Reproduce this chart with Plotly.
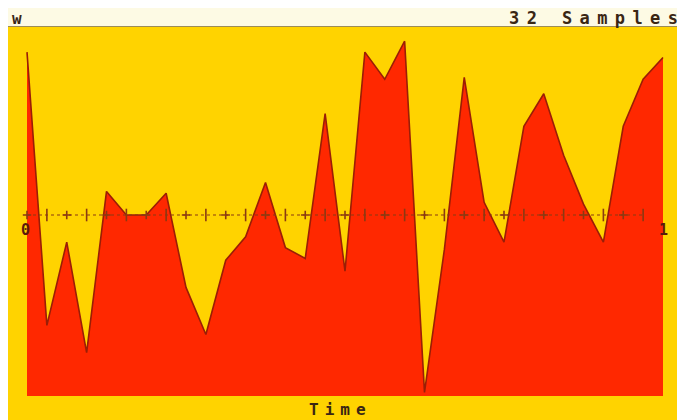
import plotly.graph_objects as go

# ---- data ----
n_samples = 32
sample_index = list(range(n_samples + 1))
wave = [0.90, -0.61, -0.15, -0.76, 0.13, 0.00, 0.00, 0.12, -0.40, -0.66,
        -0.25, -0.12, 0.18, -0.18, -0.24, 0.56, -0.31, 0.90, 0.75, 0.96,
        -0.98, -0.19, 0.76, 0.07, -0.15, 0.49, 0.67, 0.33, 0.06, -0.15,
        0.49, 0.75, 0.87]
time_tick_vals = [0, 1]
time_tick_text = ["0", "1"]
baseline_level = -1.0
title_left = "w"
title_right = "32 Samples"
x_title = "Time"

# ---- derived ----
t = [k / n_samples for k in sample_index]
axis_t = t[:-1]
even_t = [v for i, v in enumerate(axis_t) if i % 2 == 0]
odd_t = [v for i, v in enumerate(axis_t) if i % 2 == 1]

# page body has an 8px default margin: figure is drawn offset by OFF
OFF = 8
WIN_W, WIN_H = 685, 420
W, H = WIN_W - OFF, WIN_H - OFF
panel_l, panel_r, panel_t, panel_b = 8, 680, 27, 420   # window px
ml, mr, mt, mb = panel_l - OFF, W - (panel_r - OFF), panel_t - OFF, H - (panel_b - OFF)
pw, ph = W - ml - mr, H - mt - mb
x_px0, x_scale = 27, 636      # window px of t=0, px per unit
y_px0, y_scale = 215, 181     # window px of zero line, px per unit
x_lo = -(x_px0 - panel_l) / x_scale
x_hi = x_lo + pw / x_scale
y_hi = (y_px0 - panel_t) / y_scale
y_lo = y_hi - ph / y_scale


def px_x(wx):
    return (wx - panel_l) / pw


def px_y(wy):
    return (panel_b - wy) / ph


YELLOW = "#FFD300"
RED = "#FF2800"
EDGE = "#9A1E06"
INK = "#3A2614"
TICK = "#8A3A12"
FONT = "DejaVu Sans Mono"

fig = go.Figure()
fig.add_trace(go.Scatter(x=[0, 1], y=[baseline_level, baseline_level], mode="lines",
                         line=dict(width=0, color=RED), hoverinfo="skip", showlegend=False))
fig.add_trace(go.Scatter(x=t, y=wave, mode="lines", fill="tonexty", fillcolor=RED,
                         line=dict(color=EDGE, width=1.6), showlegend=False))
# dotted zero axis with tick marks
fig.add_trace(go.Scatter(x=axis_t, y=[0] * len(axis_t), mode="lines",
                         line=dict(color=TICK, width=1.2, dash="dot"), showlegend=False))
fig.add_trace(go.Scatter(x=even_t, y=[0] * len(even_t), mode="markers",
                         marker=dict(symbol="cross-thin", size=6, line=dict(color=TICK, width=1.6)),
                         showlegend=False))
fig.add_trace(go.Scatter(x=odd_t, y=[0] * len(odd_t), mode="markers",
                         marker=dict(symbol="line-ns", size=9, line=dict(color=TICK, width=1.6)),
                         showlegend=False))

lab_font = dict(family=FONT, size=16, color=INK)
annotations = [
    dict(text=f"<b>{title_left}</b>", xref="paper", yref="paper",
         x=px_x(17), y=px_y(18.5), xanchor="center", yanchor="middle",
         showarrow=False, font=dict(family=FONT, size=16, color=INK)),
    dict(text=f"<b><span style='letter-spacing:7.4px'>{title_right}</span></b>",
         xref="paper", yref="paper",
         x=px_x(687), y=px_y(18), xanchor="right", yanchor="middle",
         showarrow=False, font=dict(family=FONT, size=17, color=INK)),
    dict(text=f"<b><span style='letter-spacing:6px'>{x_title}</span></b>",
         xref="paper", yref="paper",
         x=px_x(340), y=px_y(409), xanchor="center", yanchor="middle",
         showarrow=False, font=lab_font),
]
for v, lab in zip(time_tick_vals, time_tick_text):
    annotations.append(dict(text=f"<b>{lab}</b>", x=v, y=-(230 - y_px0) / y_scale,
                            xref="x", yref="y", xanchor="center", yanchor="middle",
                            xshift=-2 if v == 0 else 0, showarrow=False,
                            font=dict(family=FONT, size=15, color="#5A1A0C")))

fig.update_layout(
    width=W, height=H,
    margin=dict(l=ml, r=mr, t=mt, b=mb),
    paper_bgcolor="#FDFAE4",
    plot_bgcolor=YELLOW,
    annotations=annotations,
    xaxis=dict(range=[x_lo, x_hi], showgrid=False, zeroline=False, showticklabels=False,
               ticks="", showline=True, linecolor="#9C8C58", linewidth=1, mirror=True),
    yaxis=dict(range=[y_lo, y_hi], showgrid=False, zeroline=False, showticklabels=False,
               ticks="", showline=True, linecolor="#9C8C58", linewidth=1, mirror=True),
)
fig.write_html("out.html")
